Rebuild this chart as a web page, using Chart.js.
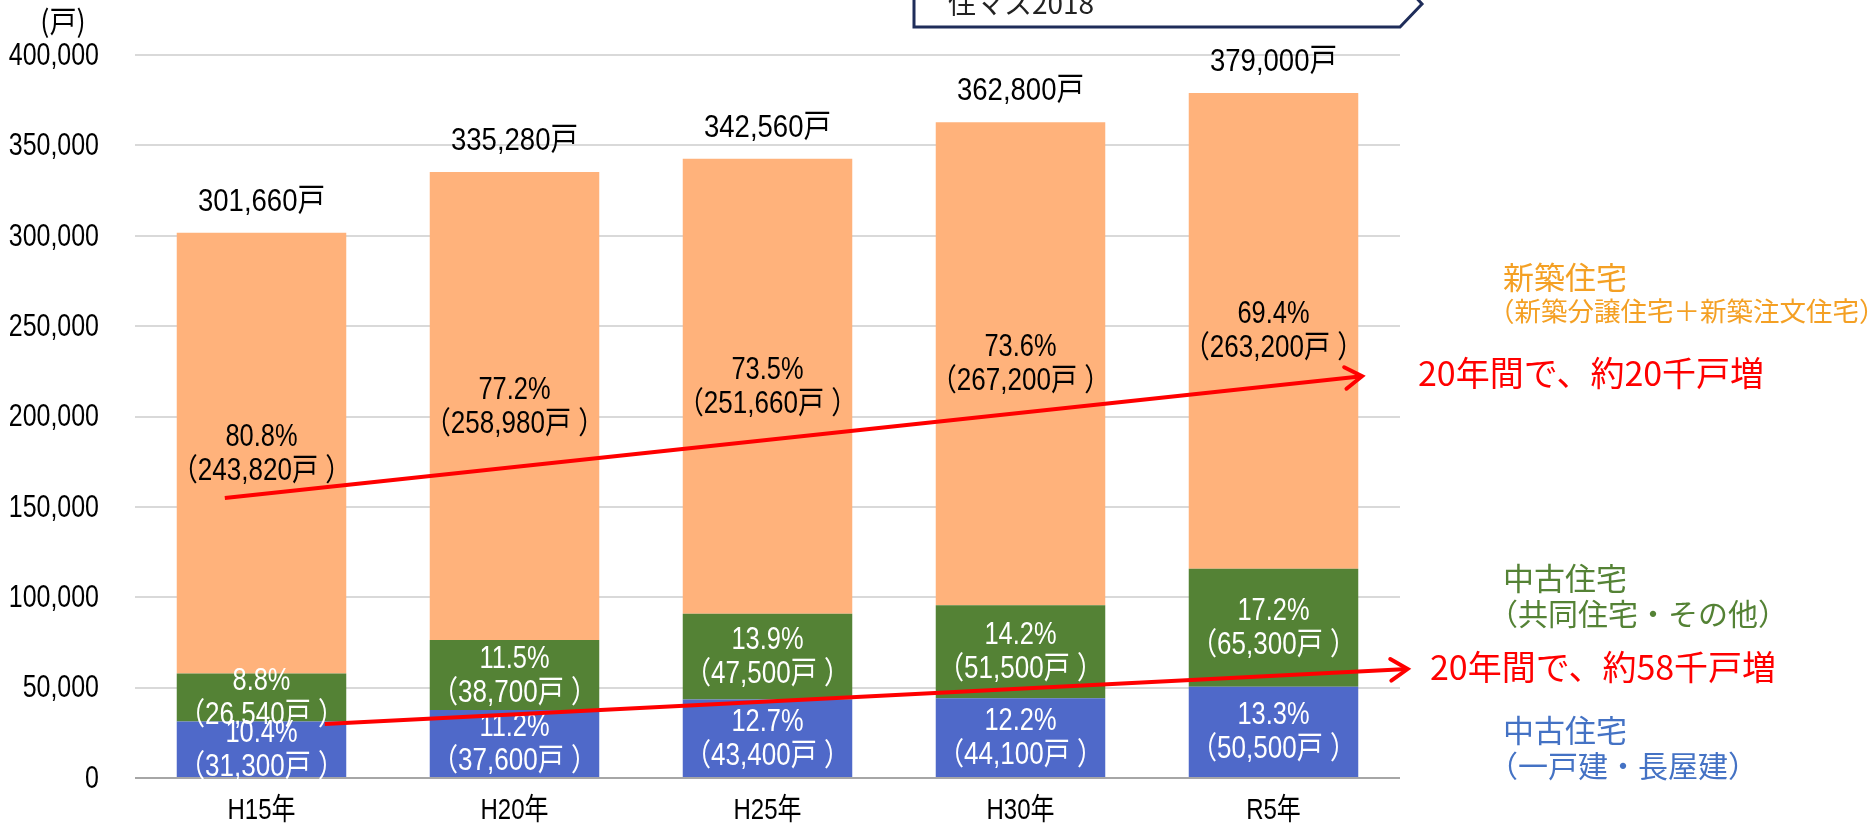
<!DOCTYPE html>
<html lang="ja">
<head>
<meta charset="utf-8">
<title>住宅取得戸数の推移</title>
<script src="https://cdn.jsdelivr.net/npm/chart.js@4/dist/chart.umd.min.js"></script>
<style>
  html, body { margin: 0; padding: 0; background: #ffffff; }
  #wrap { width: 1874px; height: 824px; position: relative; }
  canvas { display: block; }
</style>
</head>
<body>
<div id="wrap"><canvas id="chart" width="1874" height="824"></canvas></div>
<script>
// Survey years
const categories = ['H15年', 'H20年', 'H25年', 'H30年', 'R5年'];

// 中古住宅（一戸建・長屋建）
const usedDetached = [31300, 37600, 43400, 44100, 50500];
const usedDetachedPct = ['10.4%', '11.2%', '12.7%', '12.2%', '13.3%'];

// 中古住宅（共同住宅・その他）
const usedCollective = [26540, 38700, 47500, 51500, 65300];
const usedCollectivePct = ['8.8%', '11.5%', '13.9%', '14.2%', '17.2%'];

// 新築住宅（新築分譲住宅＋新築注文住宅）
const newBuilt = [243820, 258980, 251660, 267200, 263200];
const newBuiltPct = ['80.8%', '77.2%', '73.5%', '73.6%', '69.4%'];

// Value axis ticks
const yTickValues = [0, 50000, 100000, 150000, 200000, 250000, 300000, 350000, 400000];

const NUM_FONT = '"Liberation Sans", "Noto Sans CJK JP", sans-serif';
const JP_FONT = '"Noto Sans CJK JP", sans-serif';

const fmt = v => v.toLocaleString('en-US');

function drawText(ctx, text, x, y, opts) {
  ctx.save();
  ctx.font = (opts.size || 28) + 'px ' + (opts.family || NUM_FONT);
  ctx.fillStyle = opts.color || '#000';
  ctx.textAlign = opts.align || 'center';
  ctx.textBaseline = opts.baseline || 'middle';
  ctx.translate(x, y);
  ctx.scale(opts.sx || 1, 1);
  ctx.fillText(text, 0, 0);
  ctx.restore();
}

function drawArrow(ctx, x1, y1, x2, y2) {
  const ang = Math.atan2(y2 - y1, x2 - x1);
  const head = 20, spread = Math.PI / 5.5;
  ctx.save();
  ctx.strokeStyle = '#FF0000';
  ctx.lineWidth = 4;
  ctx.beginPath();
  ctx.moveTo(x1, y1);
  ctx.lineTo(x2, y2);
  ctx.stroke();
  ctx.lineCap = 'round';
  ctx.beginPath();
  ctx.moveTo(x2 - head * Math.cos(ang - spread), y2 - head * Math.sin(ang - spread));
  ctx.lineTo(x2, y2);
  ctx.lineTo(x2 - head * Math.cos(ang + spread), y2 - head * Math.sin(ang + spread));
  ctx.stroke();
  ctx.restore();
}

// Axis lettering drawn from the scales' own ticks
const axisLabels = {
  id: 'axisLabels',
  afterDraw(chart) {
    const ctx = chart.ctx;
    const ys = chart.scales.y, xs = chart.scales.x;
    ys.ticks.forEach(t => {
      drawText(ctx, fmt(t.value), ys.right - 36, ys.getPixelForValue(t.value) + 1,
        { size: 32, align: 'right', sx: 0.78 });
    });
    xs.ticks.forEach((t, i) => {
      drawText(ctx, xs.getLabelForValue(t.value), xs.getPixelForTick(i), 811,
        { size: 30, align: 'center', sx: 0.8 });
    });
    drawText(ctx, '(戸)', 63, 21, { size: 30, family: JP_FONT, align: 'center', sx: 0.9 });
  }
};

// Segment and total labels
const barLabels = {
  id: 'barLabels',
  afterDatasetsDraw(chart) {
    const ctx = chart.ctx;
    const gap = 17;
    chart.data.datasets.forEach((ds, di) => {
      const meta = chart.getDatasetMeta(di);
      meta.data.forEach((bar, i) => {
        const cy = (bar.y + bar.base) / 2 + 1;
        const color = ds.labelColor;
        drawText(ctx, ds.pct[i], bar.x, cy - gap, { size: 31, color, sx: 0.82 });
        drawText(ctx, '（' + fmt(ds.data[i]) + '戸 ）', bar.x, cy + gap, { size: 31, color, sx: 0.84 });
      });
    });
    const top = chart.getDatasetMeta(chart.data.datasets.length - 1);
    top.data.forEach((bar, i) => {
      const total = usedDetached[i] + usedCollective[i] + newBuilt[i];
      drawText(ctx, fmt(total) + '戸', bar.x, bar.y - 31, { size: 32, sx: 0.86 });
    });
  }
};

// Trend arrows, side captions and the header tag
const annotations = {
  id: 'annotations',
  afterDraw(chart) {
    const ctx = chart.ctx;
    const xs = chart.scales.x, ys = chart.scales.y;
    const px = v => xs.getPixelForValue(v);
    const py = v => ys.getPixelForValue(v);

    drawArrow(ctx, px(-0.145), py(154900), px(4.35), py(222300));
    drawArrow(ctx, px(0.25), py(29900), px(4.53), py(60300));

    drawText(ctx, '20年間で、約20千戸増', 1418, 373, { size: 34, family: JP_FONT, color: '#FF0000', align: 'left' });
    drawText(ctx, '20年間で、約58千戸増', 1430, 667, { size: 34, family: JP_FONT, color: '#FF0000', align: 'left' });

    drawText(ctx, '新築住宅', 1503, 277, { size: 31, family: JP_FONT, color: '#F4A024', align: 'left' });
    drawText(ctx, '（新築分譲住宅＋新築注文住宅）', 1488, 311, { size: 26.5, family: JP_FONT, color: '#F4A024', align: 'left' });
    drawText(ctx, '中古住宅', 1503, 578, { size: 31, family: JP_FONT, color: '#548235', align: 'left' });
    drawText(ctx, '（共同住宅・その他）', 1488, 614, { size: 30, family: JP_FONT, color: '#548235', align: 'left' });
    drawText(ctx, '中古住宅', 1503, 730, { size: 31, family: JP_FONT, color: '#4472C4', align: 'left' });
    drawText(ctx, '（一戸建・長屋建）', 1488, 766, { size: 30, family: JP_FONT, color: '#4472C4', align: 'left' });

    // header tag, mostly above the top edge
    ctx.save();
    ctx.strokeStyle = '#1F2D5A';
    ctx.lineWidth = 3;
    ctx.fillStyle = '#ffffff';
    ctx.beginPath();
    ctx.moveTo(914, -20);
    ctx.lineTo(914, 27);
    ctx.lineTo(1400, 27);
    ctx.lineTo(1422, 4);
    ctx.lineTo(1400, -20);
    ctx.closePath();
    ctx.fill();
    ctx.stroke();
    ctx.restore();
    drawText(ctx, '住マス2018', 948, 3, { size: 28, family: JP_FONT, color: '#222', align: 'left' });
  }
};

new Chart(document.getElementById('chart'), {
  type: 'bar',
  data: {
    labels: categories,
    datasets: [
      { label: '中古住宅（一戸建・長屋建）', data: usedDetached, pct: usedDetachedPct,
        backgroundColor: '#4F69C9', labelColor: '#FFFFFF' },
      { label: '中古住宅（共同住宅・その他）', data: usedCollective, pct: usedCollectivePct,
        backgroundColor: '#548235', labelColor: '#FFFFFF' },
      { label: '新築住宅（新築分譲住宅＋新築注文住宅）', data: newBuilt, pct: newBuiltPct,
        backgroundColor: '#FFB27B', labelColor: '#000000' }
    ]
  },
  options: {
    responsive: false,
    devicePixelRatio: 1,
    animation: false,
    layout: { padding: { left: 0, right: 474, top: 55, bottom: 0 } },
    datasets: { bar: { categoryPercentage: 1, barPercentage: 0.67, borderWidth: 0 } },
    plugins: { legend: { display: false }, tooltip: { enabled: false } },
    scales: {
      x: {
        stacked: true,
        grid: { display: false },
        border: { display: false },
        ticks: { display: false },
        afterFit: s => { s.height = 46; }
      },
      y: {
        stacked: true,
        min: 0,
        max: 400000,
        afterBuildTicks: s => { s.ticks = yTickValues.map(v => ({ value: v })); },
        grid: {
          drawTicks: false,
          color: c => (c.tick && c.tick.value === 0) ? '#A6A6A6' : '#D9D9D9',
          lineWidth: 2
        },
        border: { display: false },
        ticks: { display: false },
        afterFit: s => { s.width = 135; }
      }
    }
  },
  plugins: [axisLabels, barLabels, annotations]
});
</script>
</body>
</html>
